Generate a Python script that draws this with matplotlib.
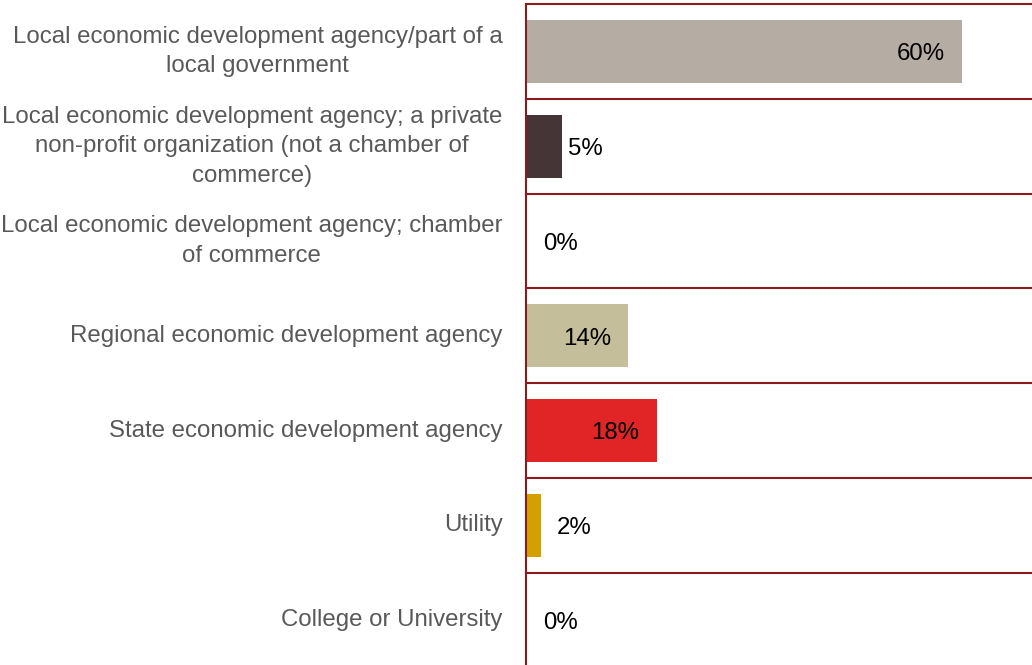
import matplotlib.pyplot as plt
import numpy as np

plt.rcParams['font.family'] = ['Liberation Sans', 'DejaVu Sans']

# categories top to bottom
categories = [
    "Local economic development agency/part of a\nlocal government",
    "Local economic development agency; a private\nnon-profit organization (not a chamber of\ncommerce)",
    "Local economic development agency; chamber\nof commerce",
    "Regional economic development agency",
    "State economic development agency",
    "Utility",
    "College or University",
]
values = [60, 5, 0, 14, 18, 2, 0]
colors = ["#B5ACA3", "#463536", "#FFFFFF", "#C5BE9A", "#E12526", "#D4A000", "#FFFFFF"]
# label offset in points: negative = inside the bar end, positive = outside
label_offsets = [-12.5, 4, 12.5, -12, -12.5, 12, 12.5]

line_color = "#8A1C1F"

fig = plt.figure(figsize=(10.32, 6.65), dpi=100)
ax = fig.add_axes([526 / 1032, -0.004, 1 - 526 / 1032, 1 - 4 / 665 + 0.004])

y = np.arange(len(categories))
ax.barh(y, values, height=0.667, color=colors, zorder=2)

ax.set_xlim(0, 506 / 7.27)
ax.set_ylim(len(categories) - 0.5, -0.5)

# separators between categories
for b in np.arange(-0.5, len(categories) + 0.5, 1):
    ax.axhline(b, color=line_color, lw=1.5, zorder=3, clip_on=False)

for s in ["top", "right", "bottom"]:
    ax.spines[s].set_visible(False)
ax.spines["left"].set_color(line_color)
ax.spines["left"].set_linewidth(1.5)
ax.spines["left"].set_zorder(4)

ax.set_xticks([])
ax.set_yticks(y)
ax.set_yticklabels(categories, fontsize=17.3, color="#595959",
                   multialignment="center", linespacing=1.45, va="center")
ax.tick_params(axis="y", length=0, pad=17)

for yi, v, off in zip(y, values, label_offsets):
    ha = "right" if off < 0 else "left"
    ax.annotate(f"{v}%", (v, yi), xytext=(off, -2), textcoords="offset points",
                ha=ha, va="center", fontsize=17.3, color="black", zorder=5)

fig.savefig("out.png", dpi=100)
